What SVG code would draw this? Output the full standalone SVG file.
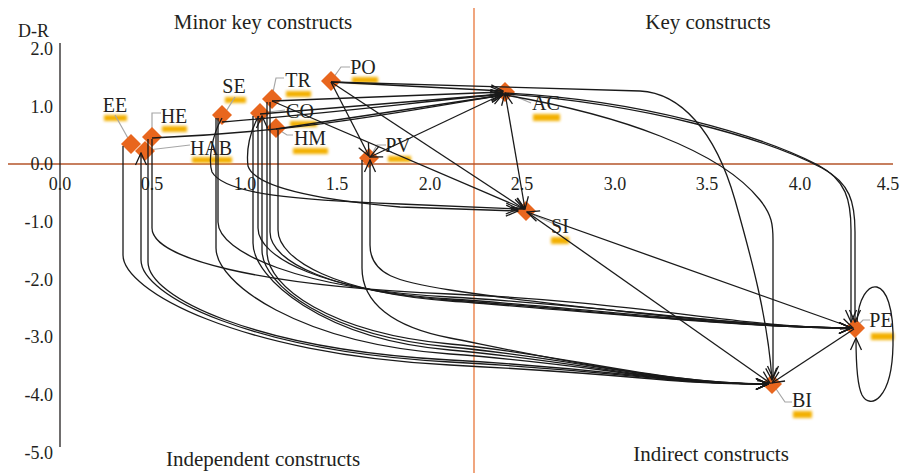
<svg xmlns="http://www.w3.org/2000/svg" width="901" height="473" viewBox="0 0 901 473">
<defs>
<style>
text{font-family:"Liberation Serif","DejaVu Serif",serif;fill:#231f20}
.title{font-size:21px;text-anchor:middle}
.tick{font-size:18px}
.tx{text-anchor:middle}
.ty{text-anchor:end}
.lbl{font-size:20px;text-anchor:middle}
.dia{fill:#e8661e}
.glow{fill:#f3b000;filter:url(#blur)}
.lead{fill:none;stroke:#a6a6a6;stroke-width:1.2}
.c{fill:none;stroke:#1a1a1a;stroke-width:1.3;marker-end:url(#a)}
.b{marker-start:url(#a)}
</style>
<filter id="blur" x="-30%" y="-100%" width="160%" height="300%"><feGaussianBlur stdDeviation="1.6"/></filter>
<marker id="a" markerUnits="userSpaceOnUse" markerWidth="14" markerHeight="14" viewBox="0 0 14 14" refX="13" refY="7" orient="auto-start-reverse">
<path d="M1,1.5 L13,7 L1,12.5" fill="none" stroke="#1a1a1a" stroke-width="1.3"/>
</marker>
</defs>
<rect width="901" height="473" fill="#fff"/>
<g id="axes">
<line x1="474" y1="8" x2="474" y2="473" stroke="#e8763a" stroke-width="1.3"/>
<line x1="8" y1="164" x2="893" y2="164" stroke="#b4552a" stroke-width="1.6"/>
<line x1="60" y1="43" x2="60" y2="447" stroke="#231f20" stroke-width="1.3"/>
<text class="tick" x="18" y="37">D-R</text>
<g class="tick tx">
<text x="60" y="190">0.0</text><text x="152" y="190">0.5</text><text x="245" y="190">1.0</text><text x="337" y="190">1.5</text><text x="430" y="190">2.0</text><text x="522" y="190">2.5</text><text x="615" y="190">3.0</text><text x="707" y="190">3.5</text><text x="800" y="190">4.0</text><text x="888" y="190">4.5</text>
</g>
<g class="tick ty">
<text x="53" y="55">2.0</text><text x="53" y="113">1.0</text><text x="53" y="170">0.0</text><text x="53" y="228">-1.0</text><text x="53" y="286">-2.0</text><text x="53" y="343">-3.0</text><text x="53" y="401">-4.0</text><text x="53" y="459">-5.0</text>
</g>
<text class="title" x="263" y="29">Minor key constructs</text>
<text class="title" x="708" y="29">Key constructs</text>
<text class="title" x="263" y="466">Independent constructs</text>
<text class="title" x="711" y="461">Indirect constructs</text>
</g>
<g id="node-EE"><rect class="glow" x="104" y="115" width="23" height="6"/><text class="lbl" x="115" y="112">EE</text><polyline class="lead" points="115,115 129,140"/><polygon class="dia" points="131,134 141,144 131,154 121,144"/></g>
<g id="node-HE"><rect class="glow" x="162" y="126" width="25" height="6"/><text class="lbl" x="174" y="123">HE</text><polyline class="lead" points="161,113 152,113 152,130"/><polygon class="dia" points="152,127 162,137 152,147 142,137"/></g>
<g id="node-HAB"><rect class="glow" x="192" y="157" width="40" height="6"/><text class="lbl" x="211" y="155">HAB</text><polyline class="lead" points="148,150 190,145"/><polygon class="dia" points="145,141 155,151 145,161 135,151"/></g>
<g id="node-SE"><rect class="glow" x="225" y="97" width="21" height="6"/><text class="lbl" x="234" y="93">SE</text><polyline class="lead" points="225,113 235,97"/><polygon class="dia" points="222,105 232,115 222,125 212,115"/></g>
<g id="node-TR"><rect class="glow" x="286" y="91" width="25" height="6"/><text class="lbl" x="298" y="87">TR</text><polyline class="lead" points="272,97 276,78 284,78"/><polygon class="dia" points="272,89 282,99 272,109 262,99"/></g>
<g id="node-HM"><rect class="glow" x="293" y="148" width="35" height="6"/><text class="lbl" x="310" y="145">HM</text><polyline class="lead" points="276,128 287,135 293,135"/><polygon class="dia" points="276,118 286,128 276,138 266,128"/></g>
<g id="node-CO"><rect class="glow" x="290" y="121" width="27" height="6"/><text class="lbl" x="300" y="118">CO</text><polyline class="lead" points="260,113 285,110"/><polygon class="dia" points="260,103 270,113 260,123 250,113"/></g>
<g id="node-PO"><rect class="glow" x="352" y="77" width="26" height="6"/><text class="lbl" x="363" y="74">PO</text><polyline class="lead" points="331,81 341,67 350,67"/><polygon class="dia" points="331,71 341,81 331,91 321,81"/></g>
<g id="node-PV"><rect class="glow" x="388" y="156" width="23" height="6"/><text class="lbl" x="398" y="152">PV</text><polyline class="lead" points="370,157 377,145 386,145"/><polygon class="dia" points="369,148 379,158 369,168 359,158"/></g>
<g id="node-AC"><rect class="glow" x="533" y="114" width="27" height="7"/><text class="lbl" x="546" y="110">AC</text><polyline class="lead" points="505,92 531,103"/><polygon class="dia" points="505,82 515,92 505,102 495,92"/></g>
<g id="node-SI"><rect class="glow" x="551" y="237" width="18" height="7"/><text class="lbl" x="560" y="233">SI</text><polyline class="lead" points="527,212 552,223"/><polygon class="dia" points="526,201 536,211 526,221 516,211"/></g>
<g id="node-PE"><rect class="glow" x="871" y="333" width="23" height="7"/><text class="lbl" x="881" y="327">PE</text><polyline class="lead" points="855,328 863,320 870,320"/><polygon class="dia" points="855,318 865,328 855,338 845,328"/></g>
<g id="node-BI"><rect class="glow" x="793" y="411" width="19" height="7"/><text class="lbl" x="802" y="407">BI</text><polyline class="lead" points="772,383 785,402 792,402"/><polygon class="dia" points="772,374 782,384 772,394 762,384"/></g>
<g id="connectors">
<path class="c" d="M123,146 L123,255 C123,290 237,354 450,365 S660,384 768,384"/>
<path class="c b" d="M141,153 L141,260 C141,295 249,351 450,362 S660,384 768,384"/>
<path class="c" d="M148,139 L148,262 C148,297 254,349 450,360 S660,384 768,384"/>
<path class="c" d="M216,118 L216,248 C216,283 298,343 450,354 S660,384 768,384"/>
<path class="c" d="M253,116 L253,243 C253,278 322,339 450,350 S660,384 768,384"/>
<path class="c b" d="M262,116 L262,250 C262,285 328,336 450,347 S660,384 768,384"/>
<path class="c" d="M267,102 L267,252 C267,287 331,333 450,344 S660,384 768,384"/>
<path class="c" d="M362,160 L362,268 C362,303 393,327 450,338 S660,384 768,384"/>
<path class="c" d="M152,139 L152,228 C152,258 256,286 450,294 S740,328 851,328"/>
<path class="c" d="M218,118 L218,222 C218,252 299,289 450,297 S740,328 851,328"/>
<path class="c" d="M258,116 L258,228 C258,258 325,291 450,299 S740,328 851,328"/>
<path class="c" d="M270,102 L270,232 C270,262 333,292 450,300 S740,328 851,328"/>
<path class="c" d="M278,130 L278,230 C278,260 338,293 450,301 S740,328 851,328"/>
<path class="c b" d="M370,160 L370,245 C370,275 398,282 450,290 S740,328 851,328"/>
<path class="c" d="M222,118 C212,135 208,160 212,172 C225,195 300,200 400,204 L518,209"/>
<path class="c" d="M259,116 C250,130 246,150 248,166 C255,188 320,200 400,207 L518,211"/>
<path class="c" d="M331,82 L503,91"/>
<path class="c" d="M272,101 L503,92"/>
<path class="c" d="M260,114 L503,94"/>
<path class="c" d="M276,129 L503,95"/>
<path class="c" d="M152,138 C300,132 400,112 503,95"/>
<path class="c" d="M222,122 C320,114 420,102 503,94"/>
<path class="c b" d="M370,157 L503,94"/>
<path class="c" d="M331,82 L369,156"/>
<path class="c" d="M331,82 L524,209"/>
<path class="c" d="M272,101 L524,209"/>
<path class="c b" d="M505,93 L525,209"/>
<path class="c b" d="M527,212 L853,328"/>
<path class="c" d="M527,212 L770,383"/>
<path class="c" d="M854,329 L772,383"/>
<path class="c" d="M331,82 L640,91 C680,93 715,130 735,200 C752,260 768,320 772,380"/>
<path class="c" d="M505,93 C640,100 760,135 818,165 C846,180 851,200 851,230 L851,322"/>
<path class="c" d="M505,94 C645,104 765,138 822,168 C850,183 855,202 855,232 L855,322"/>
<path class="c" d="M505,95 C620,115 720,150 760,200 C772,215 773,225 773,240 L773,378"/>
<path class="c" d="M857,322 C860,275 895,268 893,345 C892,400 870,410 862,395 C857,385 856,360 856,338"/>
</g>
</svg>
